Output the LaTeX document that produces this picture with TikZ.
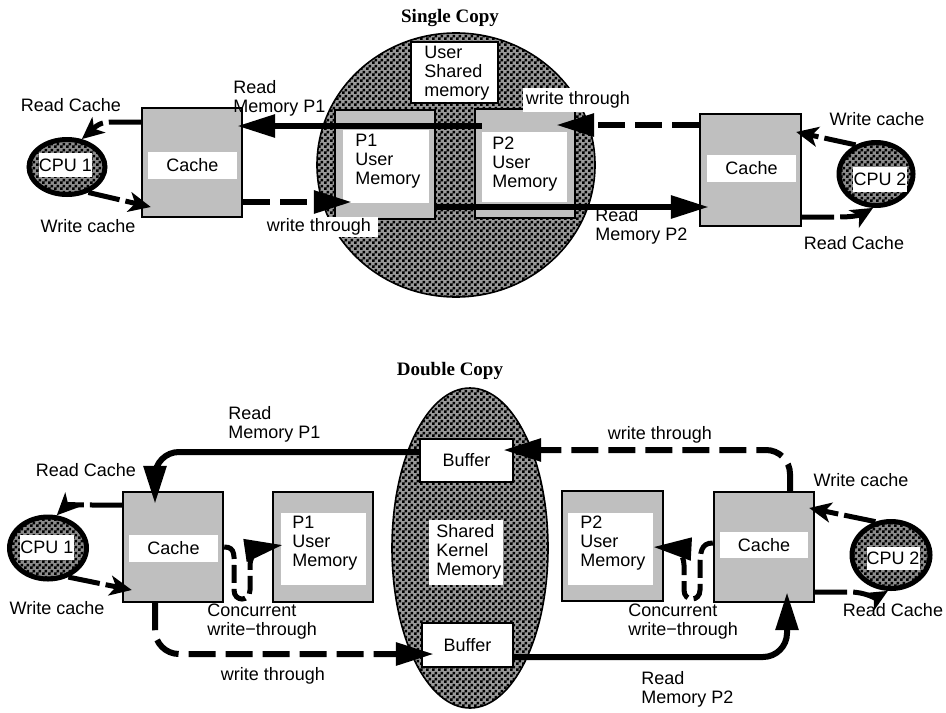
\documentclass[tikz,border=0pt]{standalone}
\usepackage{fontspec}
\setmainfont{Liberation Serif}
\newfontfamily\lsans{Liberation Sans}
\usetikzlibrary{arrows.meta,shapes.geometric,patterns,calc}
\pgfdeclarepatternformonly{checker}{\pgfpointorigin}{\pgfqpoint{3pt}{3pt}}{\pgfqpoint{3pt}{3pt}}{%
  \pgfpathrectangle{\pgfpointorigin}{\pgfqpoint{1.5pt}{1.5pt}}%
  \pgfpathrectangle{\pgfqpoint{1.5pt}{1.5pt}}{\pgfqpoint{1.5pt}{1.5pt}}%
  \pgfusepath{fill}}
\begin{document}
\begin{tikzpicture}[x=0.5pt,y=-0.5pt,
  lbl/.style={font=\lsans\fontsize{9}{9.5}\selectfont, align=left, inner sep=0pt},
  wlbl/.style={lbl, fill=white, align=center},
  graybox/.style={draw, line width=1.2pt, fill=black!25, inner sep=0pt},
  whitebox/.style={fill=white, inner sep=0pt},
  shared/.style={draw, line width=0.8pt, preaction={fill=black!40}, pattern=checker},
  cpustyle/.style={ellipse, draw, line width=2.5pt, preaction={fill=black!45}, pattern=checker, inner sep=0pt},
  bigsolid/.style={line width=3pt, -{Triangle[length=19pt,width=11pt]}},
  bigdash/.style={bigsolid, dash pattern=on 13.5pt off 5pt},
  concdash/.style={line width=2.5pt, dash pattern=on 9pt off 3pt, -{Triangle[length=19pt,width=11pt]}},
  cpuarrow/.style={line width=2.5pt, dash pattern=on 16pt off 3pt on 100pt, -{Stealth[length=11pt,width=10pt,inset=3pt]}},
  titlestyle/.style={font=\bfseries\fontsize{9.5}{11}\selectfont, inner sep=0pt}
]
\useasboundingbox (0,0) rectangle (946,712);

% ================= Single Copy =================
\node[titlestyle] (st) at (450,18) {Single Copy};
\node[shared, ellipse, minimum width=139pt, minimum height=132pt] (usm) at (456,165) {};
\node[whitebox, draw, line width=0.8pt, minimum width=43.5pt, minimum height=30.5pt] (usmbox) at (454.5,72.5) {};
\node[lbl, anchor=west] (usmtxt) at (424,73) {User\\Shared\\memory};

\node[graybox, minimum width=50pt, minimum height=54.5pt] (p1) at (385,164.5) {};
\node[whitebox, minimum width=43pt, minimum height=36.5pt] (p1w) at (386,166.5) {};
\node[lbl, anchor=west] (p1t) at (355,161) {P1\\User\\Memory};

\node[graybox, minimum width=50pt, minimum height=54.5pt] (p2) at (525,163.5) {};
\node[whitebox, minimum width=42.5pt, minimum height=35pt] (p2w) at (524.5,167) {};
\node[lbl, anchor=west] (p2t) at (492,164) {P2\\User\\Memory};

\node[graybox, minimum width=50pt, minimum height=54.5pt] (cache1) at (192,162.5) {};
\node[wlbl, minimum width=44.5pt, minimum height=13.5pt] (cache1l) at (192.5,165.5) {Cache};
\node[graybox, minimum width=50.5pt, minimum height=56pt] (cache2) at (750.5,170) {};
\node[wlbl, minimum width=44.5pt, minimum height=13.5pt] (cache2l) at (751.5,168.5) {Cache};

\node[cpustyle, minimum width=38pt, minimum height=27.5pt] (cpu1) at (67,167) {};
\node[wlbl, minimum width=26.5pt, minimum height=12pt] (cpu1l) at (65.5,165) {CPU 1};
\node[cpustyle, minimum width=37pt, minimum height=31.5pt] (cpu2) at (876,174) {};
\node[wlbl, minimum width=27pt, minimum height=12.5pt] (cpu2l) at (880,179) {CPU 2};

% arrows
\draw[bigsolid] (p2w.west |- 0,126) -- ($(cache1.east |- 0,126)+(-3pt,0)$);
\draw[bigdash] (cache1.east |- 0,202) -- ($(p1.west |- 0,202)+(9pt,0)$);
\draw[bigsolid] ($(p1.east |- 0,207)+(-1pt,0)$) -- ($(cache2.west |- 0,207)+(5pt,0)$);
\draw[bigdash] (cache2.west |- 0,125) -- ($(p2.east |- 0,125)+(-10pt,0)$);

\draw[cpuarrow] (cache1.west |- 0,122) -- (110,122) to[out=180,in=40] (cpu1.62);
\draw[cpuarrow] (cpu1.-50) -- ($(cache1.west |- 0,207)+(5pt,0)$);
\draw[cpuarrow] (cpu2.125) -- ($(cache2.east |- 0,132)+(-3pt,0)$);
\draw[cpuarrow] (cache2.east |- 0,217) -- (840,217) to[out=0,in=-150] (cpu2.-95);

% labels
\node[lbl, anchor=west] (rmp1) at (233,98) {Read\\Memory P1};
\node[wlbl, minimum width=59pt, minimum height=10pt] (wt1) at (319,227) {write through};
\node[lbl, anchor=west] (rmp2) at (595,226.5) {Read\\Memory P2};
\node[wlbl, minimum width=55pt, minimum height=12pt] (wt2) at (578,100) {write through};
\node[lbl] (rc1) at (71,105) {Read Cache};
\node[lbl] (wc1) at (88,226) {Write cache};
\node[lbl] (wc2) at (877,119) {Write cache};
\node[lbl] (rc2) at (854,243) {Read Cache};

% ================= Double Copy =================
\node[titlestyle] (dt) at (450,371) {Double Copy};
\node[shared, ellipse, minimum width=78pt, minimum height=160pt] (skm) at (470,548) {};
\node[whitebox, draw, line width=1.2pt, minimum width=46.5pt, minimum height=21.5pt, font=\lsans\fontsize{9}{9.5}\selectfont] (buf1) at (466.5,460.5) {Buffer};
\node[whitebox, minimum width=37pt, minimum height=32.5pt] (skmbox) at (466,552.5) {};
\node[lbl, anchor=west] (skmtxt) at (436,552) {Shared\\Kernel\\Memory};
\node[whitebox, draw, line width=1.2pt, minimum width=45.5pt, minimum height=22pt, font=\lsans\fontsize{9}{9.5}\selectfont] (buf2) at (467.5,645) {Buffer};

\node[graybox, minimum width=50pt, minimum height=55pt] (cache3) at (173,547) {};
\node[wlbl, minimum width=44.5pt, minimum height=13.5pt] (cache3l) at (173.5,548.5) {Cache};
\node[graybox, minimum width=50pt, minimum height=55pt] (p1b) at (323,547) {};
\node[whitebox, minimum width=42.5pt, minimum height=36pt] (p1bw) at (323.5,549) {};
\node[lbl, anchor=west] (p1bt) at (292,543) {P1\\User\\Memory};

\node[graybox, minimum width=50.5pt, minimum height=55pt] (p2b) at (612.5,546) {};
\node[whitebox, minimum width=42.5pt, minimum height=36pt] (p2bw) at (610.5,549) {};
\node[lbl, anchor=west] (p2bt) at (580,543) {P2\\User\\Memory};
\node[graybox, minimum width=50pt, minimum height=55pt] (cache4) at (764,547) {};
\node[wlbl, minimum width=44pt, minimum height=13pt] (cache4l) at (764,545) {Cache};

\node[cpustyle, minimum width=38.5pt, minimum height=31pt] (cpu3) at (48,548) {};
\node[wlbl, minimum width=26pt, minimum height=12.5pt] (cpu3l) at (47,547.5) {CPU 1};
\node[cpustyle, minimum width=39pt, minimum height=33.5pt] (cpu4) at (891,555) {};
\node[wlbl, minimum width=26pt, minimum height=11.5pt] (cpu4l) at (893,558.5) {CPU 2};

% arrows
\draw[bigsolid, rounded corners=12pt] (buf1.west |- 0,452) -| ($(cache3.north)+(-9pt,-6.5pt)$);
\draw[bigdash, rounded corners=12pt] ($(cache3.south)+(-9pt,0)$) |- ($(buf2.west |- 0,654)+(6.5pt,0)$);
\draw[bigsolid, rounded corners=12pt] (buf2.east |- 0,657) -| ($(cache4.south)+(11.5pt,5.5pt)$);
\draw[bigdash, rounded corners=12pt] ($(cache4.north)+(13pt,0)$) |- ($(buf1.east |- 0,450)+(-5.5pt,0)$);

\draw[concdash] (cache3.east |- 0,547) .. controls (236,547) and (234,556) .. (234,572) -- (234,590)
  .. controls (234,602) and (250,602) .. (250,590) -- (250,565)
  .. controls (250,554) and (262,548) .. ($(p1bw.west)+(1pt,2pt)$);
\draw[concdash] (cache4.west |- 0,543) .. controls (701,543) and (700,552) .. (700,568) -- (700,590)
  .. controls (700,602) and (684,602) .. (684,590) -- (684,565)
  .. controls (684,553) and (672,548) .. ($(p2bw.east)+(0,1pt)$);

\draw[cpuarrow] (cache3.west |- 0,505) -- (95,505) to[out=180,in=45] (cpu3.75);
\draw[cpuarrow] (cpu3.-55) -- ($(cache3.west |- 0,590)+(5pt,0)$);
\draw[cpuarrow] (cpu4.115) -- ($(cache4.east |- 0,508)+(-3pt,0)$);
\draw[cpuarrow] (cache4.east |- 0,592) -- (850,592) to[out=0,in=-150] (cpu4.-95);

% labels
\node[lbl, anchor=west] (rmp1b) at (228,424) {Read\\Memory P1};
\node[lbl] (wt3) at (273,676) {write through};
\node[lbl, anchor=west] (rmp2b) at (641,689) {Read\\Memory P2};
\node[lbl] (wt4) at (660,435) {write through};
\node[lbl, anchor=west] (cw1) at (207,621.5) {Concurrent\\write\textminus through};
\node[lbl, anchor=west] (cw2) at (628,621.5) {Concurrent\\write\textminus through};
\node[lbl] (rc3) at (86,470) {Read Cache};
\node[lbl] (wc3) at (57,608) {Write cache};
\node[lbl] (wc4) at (861,480) {Write cache};
\node[lbl] (rc4) at (893,610) {Read Cache};
\end{tikzpicture}
\end{document}
